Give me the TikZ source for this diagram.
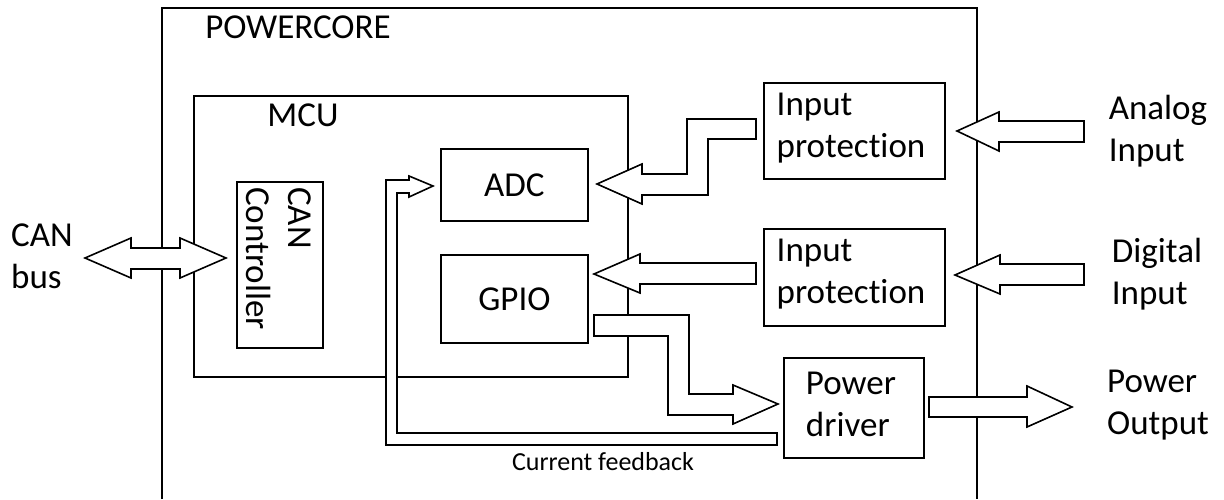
\documentclass[tikz,border=0pt]{standalone}
\usepackage{fontspec}
\setmainfont{Carlito}[Ligatures=NoCommon]
\begin{document}
\begin{tikzpicture}[x=1pt,y=-1pt,
  box/.style={draw, line width=1.8pt, inner sep=0pt, anchor=north west, font=\fontsize{35}{42}\selectfont, align=left},
  lbl/.style={inner sep=0pt, font=\fontsize{35}{42}\selectfont, align=left},
  small/.style={inner sep=0pt, font=\fontsize{26}{30}\selectfont},
  blk/.style={draw, fill=white, line width=1.6pt, line join=miter}]
\useasboundingbox (0,0) rectangle (1224,499);
% outer POWERCORE frame (open at the bottom)
\draw[line width=1.8pt] (162,499) -- (162,8) -- (977,8) -- (977,499);
\node[lbl] (pclbl) at (298,27) {POWERCORE};
% MCU
\node[box, minimum width=434pt, minimum height=281pt] (mcu) at (193,95) {};
\node[lbl] (mculbl) at (303,115) {MCU};
\node[box, minimum width=147pt, minimum height=72pt, align=center] (adc) at (440,148) {ADC};
\node[box, minimum width=147pt, minimum height=88pt, align=center] (gpio) at (440,254) {GPIO};
\node[box, minimum width=86pt, minimum height=166pt] (can) at (236,181) {};
\node[inner sep=0pt, rotate=-90, anchor=west, align=left, font=\fontsize{35}{42}\selectfont]
  (cant) at (279,187) {CAN\\Controller};
% right boxes
\node[box, minimum width=181pt, minimum height=96pt] (ip1) at (763,82) {};
\node[lbl] (ip1t) at (851,128) {Input\\protection};
\node[box, minimum width=181pt, minimum height=97pt] (ip2) at (763,228) {};
\node[lbl] (ip2t) at (851,274) {Input\\protection};
\node[box, minimum width=140pt, minimum height=100pt] (pd) at (783,357) {};
\node[lbl] (pdt) at (851,404) {Power\\driver};
% outside labels
\node[lbl] (canbus) at (42,256) {CAN\\bus};
\node[lbl] (ain) at (1158,131) {Analog\\Input};
\node[lbl] (din) at (1157,274) {Digital\\Input};
\node[lbl] (pout) at (1158,405) {Power\\Output};
% block arrows
\draw[blk] (85,258) -- (131,238) -- (131,248) -- (180,248) -- (180,238) -- (226,258)
  -- (180,278) -- (180,269) -- (131,269) -- (131,278) -- cycle;
\draw[blk] (1084,121) -- (999,121) -- (999,112) -- (957,131) -- (999,151) -- (999,142) -- (1084,142) -- cycle;
\draw[blk] (1084,264) -- (1000,264) -- (1000,255) -- (955,275) -- (1000,294) -- (1000,285) -- (1084,285) -- cycle;
\draw[blk] (929,397) -- (1027,397) -- (1027,386) -- (1072,407) -- (1027,427) -- (1027,417) -- (929,417) -- cycle;
\draw[blk] (756,263) -- (640,263) -- (640,254) -- (594,274) -- (640,293) -- (640,284) -- (756,284) -- cycle;
\draw[blk] (597,184) -- (642,164) -- (642,174) -- (687,174) -- (687,119) -- (756,119) -- (756,139)
  -- (708,139) -- (708,195) -- (642,195) -- (642,204) -- cycle;
\draw[blk] (594,315) -- (689,315) -- (689,394) -- (733,394) -- (733,385) -- (778,404) -- (733,424)
  -- (733,415) -- (668,415) -- (668,336) -- (594,336) -- cycle;
\draw[blk] (433,186) -- (409,176) -- (409,180) -- (386,180) -- (386,445) -- (777,445) -- (777,433)
  -- (397,433) -- (397,193) -- (409,193) -- (409,197) -- cycle;
\node[small] (cf) at (603,462) {Current feedback};
\end{tikzpicture}
\end{document}
